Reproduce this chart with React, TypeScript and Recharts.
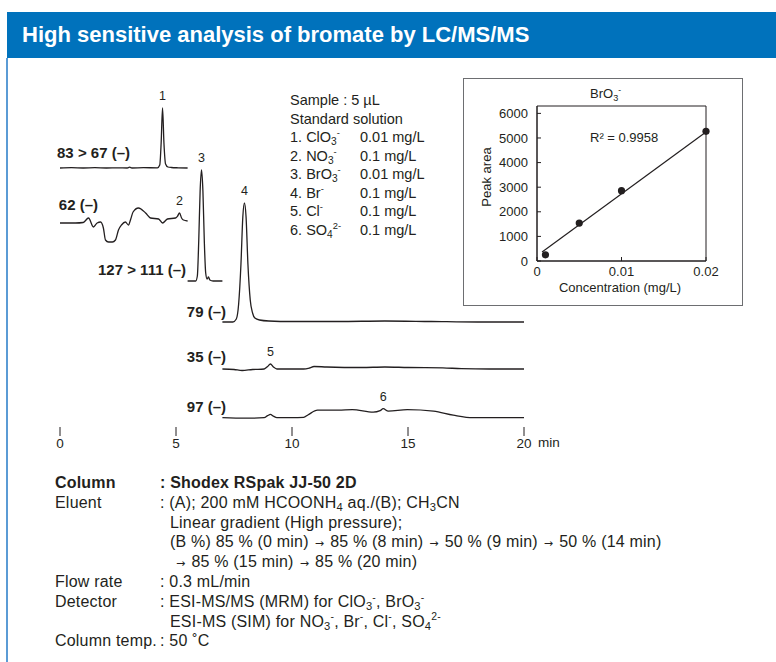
import React from 'react';
import { LineChart, ComposedChart, Line, XAxis, YAxis, Scatter, ReferenceArea, ReferenceDot } from 'recharts';

const INK = '#231f20';
const FONT = '"Liberation Sans", Arial, Helvetica, sans-serif';

// chromatogram traces, time in min, signal in relative units
const clo3Time = [0, 0.5, 1.0, 1.5, 2.0, 2.5, 2.9, 3.0, 3.1, 3.6, 4.2, 4.3, 4.36, 4.42, 4.48, 4.55, 4.65, 4.8, 5.1, 5.5];
const clo3Signal = [0, 0.3, 0, 0.3, 0, 0.2, 0, 0.8, 0, 0.3, 0.2, 3, 25, 60, 25, 4, 1, 0.5, 0.2, 0];

const no3Time = [0, 0.67, 1.0, 1.23, 1.44, 1.6, 1.75, 1.87, 1.96, 2.09, 2.26, 2.39, 2.52, 2.65, 2.82, 2.95, 3.05, 3.15, 3.38, 3.69, 3.9, 4.25, 4.42, 4.63, 4.98, 5.07, 5.15, 5.24, 5.32, 5.5];
const no3Signal = [0, 0, 0.5, 5, -4, 0, 1, -5, -17, -19, -19, -17, -7, -2, 1, -2, 4, 11, 15, 10, 5, 4, 0, 4, 5, 7, 10, 5, 3, 2];

const bro3Time = [5.5, 5.85, 5.92, 5.98, 6.04, 6.1, 6.16, 6.22, 6.28, 6.34, 6.4, 6.46, 6.6, 7.0];
const bro3Signal = [0, 0, 5, 40, 90, 111, 90, 40, 8, 2, 4, 1, 0, 0];

const brTime = [7.0, 7.45, 7.6, 7.7, 7.8, 7.88, 7.95, 8.02, 8.1, 8.2, 8.3, 8.4, 8.6, 9.0, 10, 12, 14, 16, 18, 20];
const brSignal = [0, 0, 3, 18, 58, 105, 119, 105, 58, 22, 9, 4, 2, 1, 0.5, 0.5, 1, 0.5, 0, 0];

const clTime = [7.0, 7.5, 7.85, 8.3, 8.8, 8.95, 9.07, 9.2, 9.35, 10.5, 10.75, 10.95, 11.5, 13, 14, 15, 16.5, 17.3, 18.5, 20];
const clSignal = [0, -0.5, -1.5, -0.5, 0, 2.5, 5, 2, 0, 0, 1, 2.5, 2, 1.5, 2, 1.5, 1.2, 0.3, 0, 0];

const so4Time = [7.0, 8.0, 8.8, 8.95, 9.07, 9.2, 9.35, 10.0, 10.5, 10.7, 11.1, 12.0, 12.6, 13.5, 13.8, 13.93, 14.15, 14.97, 16.1, 16.95, 17.8, 19.0, 20];
const so4Signal = [0, -0.5, 0, 2, 3.3, 1.5, 0, 0, 0.3, 3, 7.5, 7.5, 8, 5.5, 7, 9, 6.5, 8, 6.5, 2.5, 0, 0, 0];

const traceNames = ['83 > 67 (–)', '62 (–)', '127 > 111 (–)', '79 (–)', '35 (–)', '97 (–)'];
const peakNumbers = ['1', '2', '3', '4', '5', '6'];
const peakTimes = [4.42, 5.15, 6.1, 7.95, 9.07, 13.93];
const timeTicks = [0, 5, 10, 15, 20];

// calibration of bromate
const concentration = [0.001, 0.005, 0.01, 0.02];
const peakArea = [250, 1540, 2860, 5270];
const fitConcentration = [0.0006, 0.02];
const fitArea = [366, 5244];
const concTicks = [0, 0.01, 0.02];
const areaTicks = [0, 1000, 2000, 3000, 4000, 5000, 6000];

// vertical stacking of the traces (layout only)
const traceOffsets = [259, 204, 146, 105, 58, 9.3];
const nameRight = [130, 98, 186, 226, 226, 226];
const nameCenterY = [153, 205, 270, 312, 357, 407];

const traces = [
  [clo3Time, clo3Signal],
  [no3Time, no3Signal],
  [bro3Time, bro3Signal],
  [brTime, brSignal],
  [clTime, clSignal],
  [so4Time, so4Signal],
].map(([t, s], k) => t.map((time, i) => ({ t: time, v: traceOffsets[k] + s[i] })));

const peakValue = (k: number) => {
  const i = traces[k].findIndex((p) => p.t === peakTimes[k]);
  return traces[k][i].v;
};

const points = concentration.map((c, i) => ({ c, a: peakArea[i] }));
const fit = fitConcentration.map((c, i) => ({ c, a: fitArea[i] }));

const Ion = ({ base, sub, sup }: { base: string; sub?: string; sup?: string }) => (
  <span>
    {base}
    {sub && <span style={{ fontSize: '0.7em', position: 'relative', top: '0.3em', lineHeight: 1 }}>{sub}</span>}
    {sup && <span style={{ fontSize: '0.65em', position: 'relative', top: '-0.6em', lineHeight: 1 }}>{sup}</span>}
  </span>
);

const abs = (left: number, top: number, extra: React.CSSProperties = {}): React.CSSProperties => ({
  position: 'absolute', left, top, whiteSpace: 'nowrap', ...extra,
});

const Arrow = () => (
  <span style={{ fontFamily: '"DejaVu Sans", sans-serif', fontSize: 11, margin: '0 6px', lineHeight: 1 }}>→</span>
);

export default function App() {
  const sampleRows: [React.ReactNode, string][] = [
    [<>1. <Ion base="ClO" sub="3" sup="-" /></>, '0.01 mg/L'],
    [<>2. <Ion base="NO" sub="3" sup="-" /></>, '0.1 mg/L'],
    [<>3. <Ion base="BrO" sub="3" sup="-" /></>, '0.01 mg/L'],
    [<>4. <Ion base="Br" sup="-" /></>, '0.1 mg/L'],
    [<>5. <Ion base="Cl" sup="-" /></>, '0.1 mg/L'],
    [<>6. <Ion base="SO" sub="4" sup="2-" /></>, '0.1 mg/L'],
  ];

  const condRows: [string, React.ReactNode, boolean?][] = [
    ['Column', ': Shodex RSpak JJ-50 2D', true],
    ['Eluent', <>: (A); 200 mM HCOONH<Ion base="" sub="4" /> aq./(B); CH<Ion base="" sub="3" />CN</>],
    ['', <span style={{ paddingLeft: 10 }}>Linear gradient (High pressure);</span>],
    ['', <span style={{ paddingLeft: 10 }}>(B %) 85 % (0 min)<Arrow />85 % (8 min)<Arrow />50 % (9 min)<Arrow />50 % (14 min)</span>],
    ['', <span style={{ paddingLeft: 10 }}><Arrow />85 % (15 min)<Arrow />85 % (20 min)</span>],
    ['Flow rate', ': 0.3 mL/min'],
    ['Detector', <>: ESI-MS/MS (MRM) for <Ion base="ClO" sub="3" sup="-" />, <Ion base="BrO" sub="3" sup="-" /></>],
    ['', <span style={{ paddingLeft: 10 }}>ESI-MS (SIM) for <Ion base="NO" sub="3" sup="-" />, <Ion base="Br" sup="-" />, <Ion base="Cl" sup="-" />, <Ion base="SO" sub="4" sup="2-" /></span>],
    ['Column temp.', ': 50 ˚C'],
  ];

  return (
    <div style={{ position: 'absolute', left: 0, top: 0, width: 776, height: 662, background: '#fff', fontFamily: FONT, color: INK, overflow: 'hidden' }}>
      {/* header */}
      <div style={abs(7, 12, { width: 769, height: 46, background: '#0072bc' })} />
      <div style={abs(22, 12, { height: 46, lineHeight: '46px', color: '#fff', fontWeight: 700, fontSize: 22 })}>
        High sensitive analysis of bromate by LC/MS/MS
      </div>
      <div style={abs(6, 58, { width: 2, height: 604, background: '#5b9bd5' })} />

      {/* chromatograms */}
      <div style={abs(0, 0)}>
        <LineChart width={560} height={460} margin={{ top: 90, right: 36, bottom: 0, left: 60 }}>
          <XAxis
            type="number"
            dataKey="t"
            domain={[0, 20]}
            ticks={timeTicks}
            axisLine={false}
            tickSize={9}
            tickMargin={2}
            height={33}
            tickLine={{ stroke: INK }}
            tick={{ fill: INK, fontSize: 13.5, fontFamily: FONT }}
          />
          <YAxis hide type="number" domain={[0, 337]} allowDataOverflow />
          {traces.map((d, k) => (
            <Line
              key={k}
              data={d}
              dataKey="v"
              type="monotone"
              stroke={INK}
              strokeWidth={1.3}
              dot={false}
              isAnimationActive={false}
            />
          ))}
          {peakNumbers.map((n, k) => (
            <ReferenceDot
              key={n}
              x={peakTimes[k]}
              y={peakValue(k)}
              r={0}
              ifOverflow="visible"
              label={{ value: n, position: 'top', offset: 8, fill: INK, fontSize: 12.5, fontFamily: FONT }}
            />
          ))}
        </LineChart>
      </div>
      {traceNames.map((name, k) => (
        <div key={name} style={abs(nameRight[k] - 160, nameCenterY[k] - 9, { width: 160, textAlign: 'right', fontSize: 15, fontWeight: 700, lineHeight: '18px' })}>
          {name}
        </div>
      ))}
      <div style={abs(538, 435, { fontSize: 13.5, lineHeight: '16px' })}>min</div>

      {/* sample list */}
      <div style={abs(290, 91, { fontSize: 14.5, lineHeight: '18.5px' })}>
        <div style={{ height: 18.5 }}>Sample : 5 µL</div>
        <div style={{ height: 18.5 }}>Standard solution</div>
        {sampleRows.map(([ion, conc], i) => (
          <div key={i} style={{ display: 'flex', height: 18.5 }}>
            <span style={{ width: 70 }}>{ion}</span>
            <span>{conc}</span>
          </div>
        ))}
      </div>

      {/* calibration inset */}
      <div style={abs(463, 78, { width: 278, height: 226, border: '1px solid #6d6e71' })} />
      <div style={abs(463, 78)}>
        <ComposedChart width={280} height={227} margin={{ top: 28, right: 37, bottom: 0, left: 0 }}>
          <XAxis
            type="number"
            dataKey="c"
            domain={[0, 0.02]}
            ticks={concTicks}
            tickFormatter={(v: number) => (v === 0 ? '0' : String(v))}
            height={44}
            tickSize={-4}
            tickMargin={10}
            axisLine={{ stroke: INK }}
            tickLine={{ stroke: INK }}
            tick={{ fill: INK, fontSize: 13, fontFamily: FONT }}
          />
          <YAxis
            type="number"
            dataKey="a"
            domain={[0, 6300]}
            ticks={areaTicks}
            width={74}
            tickSize={-4}
            tickMargin={13}
            axisLine={{ stroke: INK }}
            tickLine={{ stroke: INK }}
            tick={{ fill: INK, fontSize: 13, fontFamily: FONT }}
          />
          <ReferenceArea x1={0} x2={0.02} y1={0} y2={6300} fill="none" stroke={INK} strokeWidth={1} />
          <Line data={fit} dataKey="a" stroke={INK} strokeWidth={1.2} dot={false} isAnimationActive={false} />
          <Scatter
            data={points}
            dataKey="a"
            fill={INK}
            isAnimationActive={false}
            shape={(p: any) => <circle cx={p.cx} cy={p.cy} r={3.6} fill={INK} />}
          />
        </ComposedChart>
      </div>
      <div style={abs(590, 86, { fontSize: 13, lineHeight: '16px' })}>
        <Ion base="BrO" sub="3" sup="-" />
      </div>
      <div style={abs(590, 130, { fontSize: 13, lineHeight: '16px' })}>R² = 0.9958</div>
      <div style={abs(487, 177, { fontSize: 13, lineHeight: '16px', transform: 'translate(-50%, -50%) rotate(-90deg)' })}>Peak area</div>
      <div style={abs(620, 288, { fontSize: 13, lineHeight: '16px', transform: 'translate(-50%, -50%)' })}>Concentration (mg/L)</div>

      {/* conditions */}
      <div style={abs(55, 473, { fontSize: 16, lineHeight: '19.8px', letterSpacing: 0.2 })}>
        {condRows.map(([label, text, bold], i) => (
          <div key={i} style={{ display: 'flex', height: 19.8, fontWeight: bold ? 700 : 400 }}>
            <span style={{ width: 105 }}>{label}</span>
            <span>{text}</span>
          </div>
        ))}
      </div>
    </div>
  );
}
